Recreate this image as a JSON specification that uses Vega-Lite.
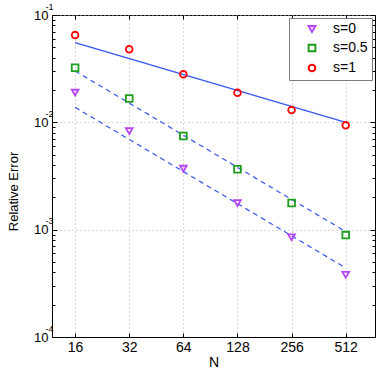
{
  "$schema": "https://vega.github.io/schema/vega-lite/v6.json",
  "width": 323,
  "height": 322,
  "autosize": {"type": "none"},
  "padding": {"left": 52, "top": 15, "right": 7, "bottom": 37},
  "config": {
    "font": "Liberation Sans",
    "view": {"stroke": "black", "strokeWidth": 1},
    "axis": {
      "domainColor": "black",
      "tickColor": "black",
      "labelColor": "black",
      "titleColor": "black",
      "labelFont": "Liberation Sans",
      "titleFont": "Liberation Sans",
      "labelFontSize": 14,
      "titleFontSize": 13,
      "titleFontWeight": "normal",
      "gridColor": "#b0b0b0",
      "gridDash": [1, 3],
      "gridWidth": 1
    }
  },
  "datasets": {
    "pts": [
      {"N": 16, "err": 0.0189, "s": "s=0"},
      {"N": 32, "err": 0.0083, "s": "s=0"},
      {"N": 64, "err": 0.0037, "s": "s=0"},
      {"N": 128, "err": 0.00177, "s": "s=0"},
      {"N": 256, "err": 0.00085, "s": "s=0"},
      {"N": 512, "err": 0.00038, "s": "s=0"},
      {"N": 16, "err": 0.0323, "s": "s=0.5"},
      {"N": 32, "err": 0.0167, "s": "s=0.5"},
      {"N": 64, "err": 0.00745, "s": "s=0.5"},
      {"N": 128, "err": 0.00365, "s": "s=0.5"},
      {"N": 256, "err": 0.00177, "s": "s=0.5"},
      {"N": 512, "err": 0.00089, "s": "s=0.5"},
      {"N": 16, "err": 0.065, "s": "s=1"},
      {"N": 32, "err": 0.048, "s": "s=1"},
      {"N": 64, "err": 0.028, "s": "s=1"},
      {"N": 128, "err": 0.0189, "s": "s=1"},
      {"N": 256, "err": 0.013, "s": "s=1"},
      {"N": 512, "err": 0.00937, "s": "s=1"}
    ],
    "fitdashed": [
      {"N": 16, "err": 0.0138, "series": "fit s=0"},
      {"N": 512, "err": 0.00044, "series": "fit s=0"},
      {"N": 16, "err": 0.0301, "series": "fit s=0.5"},
      {"N": 512, "err": 0.00096, "series": "fit s=0.5"}
    ],
    "fitsolid": [
      {"N": 16, "err": 0.0552, "series": "fit s=1"},
      {"N": 512, "err": 0.0100, "series": "fit s=1"}
    ]
  },
  "layer": [
    {
      "data": {"name": "fitdashed"},
      "mark": {"type": "line", "color": "#3355f0", "strokeWidth": 1.2, "strokeDash": [5, 4]},
      "encoding": {
        "x": {
          "field": "N", "type": "quantitative",
          "scale": {"type": "log", "base": 2, "domain": [11.9, 745], "nice": false},
          "axis": {"orient": "top", "values": [16, 32, 64, 128, 256, 512], "labels": false, "grid": false, "title": null, "tickSize": -4, "domain": false}
        },
        "y": {
          "field": "err", "type": "quantitative",
          "scale": {"type": "log", "domain": [0.0001, 0.1], "nice": false},
          "axis": {
            "orient": "right",
            "values": [0.0001, 0.0002, 0.0003, 0.0004, 0.0005, 0.0006, 0.0007, 0.0008, 0.0009, 0.001, 0.002, 0.003, 0.004, 0.005, 0.006, 0.007, 0.008, 0.009, 0.01, 0.02, 0.03, 0.04, 0.05, 0.06, 0.07, 0.08, 0.09, 0.1],
            "labels": false, "grid": false, "title": null, "domain": false,
            "tickSize": {"condition": {"test": "indexof([0.1, 0.01, 0.001, 0.0001], datum.value) >= 0", "value": -5}, "value": -3}
          }
        },
        "detail": {"field": "series"}
      }
    },
    {
      "data": {"name": "fitsolid"},
      "mark": {"type": "line", "color": "#3355f0", "strokeWidth": 1.2},
      "encoding": {
        "x": {"field": "N", "type": "quantitative", "axis": null},
        "y": {
          "field": "err", "type": "quantitative",
          "axis": {
            "orient": "left",
            "values": [0.0001, 0.001, 0.01, 0.1],
            "labelExpr": "datum.value == 0.1 ? '-1' : datum.value == 0.01 ? '-2' : datum.value == 0.001 ? '-3' : '-4'",
            "labelFontSize": 9,
            "labelAlign": "left",
            "labelPadding": 7,
            "labelOffset": -9,
            "ticks": false, "grid": false, "domain": false, "title": null
          }
        }
      }
    },
    {
      "data": {"name": "pts"},
      "mark": {"type": "point", "filled": false, "strokeWidth": 1.8, "size": 45, "opacity": 1},
      "encoding": {
        "x": {
          "field": "N", "type": "quantitative",
          "axis": {"orient": "bottom", "values": [16, 32, 64, 128, 256, 512], "grid": true, "title": "N", "tickSize": -4, "labelPadding": 7, "titlePadding": 1, "titleFontSize": 14}
        },
        "y": {
          "field": "err", "type": "quantitative",
          "title": "Relative Error",
          "axis": {
            "orient": "left",
            "values": [0.0001, 0.0002, 0.0003, 0.0004, 0.0005, 0.0006, 0.0007, 0.0008, 0.0009, 0.001, 0.002, 0.003, 0.004, 0.005, 0.006, 0.007, 0.008, 0.009, 0.01, 0.02, 0.03, 0.04, 0.05, 0.06, 0.07, 0.08, 0.09, 0.1],
            "labelExpr": "indexof([0.1, 0.01, 0.001, 0.0001], datum.value) >= 0 ? '10' : ''",
            "labelFontSize": 13,
            "grid": true,
            "gridOpacity": {"condition": {"test": "indexof([0.1, 0.01, 0.001, 0.0001], datum.value) >= 0", "value": 1}, "value": 0},
            "tickSize": {"condition": {"test": "indexof([0.1, 0.01, 0.001, 0.0001], datum.value) >= 0", "value": -5}, "value": -3},
            "labelPadding": 9,
            "titleX": -39,
            "titleY": 176,
            "titleAlign": "center",
            "titleBaseline": "middle",
            "titleAngle": -90
          }
        },
        "color": {
          "field": "s", "type": "nominal",
          "scale": {"domain": ["s=0", "s=0.5", "s=1"], "range": ["#b844f4", "#1e9e1e", "#ff0000"]},
          "legend": {
            "title": null,
            "orient": "top-right",
            "offset": 3,
            "strokeColor": "#7a7a7a",
            "fillColor": "white",
            "padding": 4,
            "labelFontSize": 14,
            "labelFont": "Liberation Sans",
            "labelColor": "black",
            "symbolStrokeWidth": 2,
            "symbolSize": 45,
            "rowPadding": 4,
            "labelOffset": 14,
            "symbolOffset": 12
          }
        },
        "shape": {
          "field": "s", "type": "nominal",
          "scale": {"domain": ["s=0", "s=0.5", "s=1"], "range": ["triangle-down", "square", "circle"]}
        }
      }
    }
  ],
  "resolve": {"axis": {"x": "independent", "y": "independent"}}
}
